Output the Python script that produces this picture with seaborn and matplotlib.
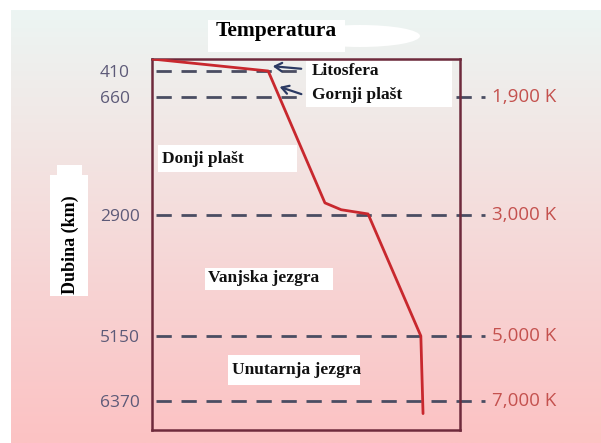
import numpy as np
import matplotlib
matplotlib.use("Agg")
import matplotlib.pyplot as plt
import matplotlib.transforms as mtransforms
from matplotlib.patches import Rectangle, Ellipse, FancyArrowPatch
from matplotlib.colors import LinearSegmentedColormap
import seaborn as sns

# ---------------- data ----------------
layer_depths = [410, 660, 2900, 5150, 6370]          # km
layer_labels = ["410", "660", "2900", "5150", "6370"]
temp_label_depths = [660, 2900, 5150, 6370]
temp_labels = ["1,900 K", "3,000 K", "5,000 K", "7,000 K"]
curve_depth = [0, 410, 2670, 2800, 2880, 5150, 6600]  # km
curve_temp = [0, 2640, 3930, 4300, 4910, 6110, 6160]  # relative temperature position
layer_names = ["Litosfera", "Gornji plašt", "Donji plašt", "Vanjska jezgra", "Unutarnja jezgra"]
title = "Temperatura"
ylabel = "Dubina (km)"

# ---------------- layout ----------------
W, H = 601, 443
sns.set_style("white")
plt.rcParams["font.family"] = ["Open Sans", "DejaVu Sans"]

fig = plt.figure(figsize=(W / 100, H / 100), dpi=100)
fig.patch.set_facecolor("white")

def fx(px):
    return px / W

def fy(py):
    return 1 - py / H

# gradient background
bg = fig.add_axes([fx(11), 0, (W - 11) / W, (H - 10) / H], zorder=-10)
cmap = LinearSegmentedColormap.from_list(
    "bg", [(0.0, "#ecf5f3"), (0.3, "#f2e6e4"), (0.65, "#f7d3d3"), (1.0, "#fcc2c3")])
grad = np.linspace(0, 1, 256).reshape(-1, 1)
bg.imshow(grad, aspect="auto", cmap=cmap, extent=[0, 1, 1, 0])
bg.set_axis_off()

# main axes
ax = fig.add_axes([fx(152), fy(430), (460 - 152) / W, (430 - 59) / H])
ax.set_facecolor("none")

# non-linear depth scale of the schematic
depth_knots = [-20000, 0, 410, 660, 2900, 5150, 6370, 6900, 30000]
pos_knots = [-526, 59, 71, 97, 215, 336, 401, 430, 1694]

def fwd(d):
    return np.interp(d, depth_knots, pos_knots)

def inv(p):
    return np.interp(p, pos_knots, depth_knots)

sns.lineplot(x=curve_temp, y=curve_depth, sort=False, estimator=None,
             color="#c8282e", linewidth=2.0, ax=ax, zorder=4)

ax.set_yscale("function", functions=(fwd, inv))
ax.set_ylim(6900, 0)
ax.set_xlim(0, 7000)

# dashed depth lines
dash_col = "#4a4d62"
ax.hlines([layer_depths[0]], 90, 6900, colors=dash_col, linewidth=2,
          linestyles=[(0, (5.5, 3.5))], zorder=2)
ax.hlines(layer_depths[1:], 90, 7560, colors=dash_col, linewidth=2,
          linestyles=[(0, (5.5, 3.5))], zorder=2, clip_on=False)

# spines
for s in ["left", "right", "top", "bottom"]:
    ax.spines[s].set_visible(True)
    ax.spines[s].set_color("#6e2a3c")
    ax.spines[s].set_linewidth(1.8)

ax.set_xticks([])
ax.set_yticks(layer_depths, labels=layer_labels)
ax.tick_params(axis="y", length=0, pad=37.5, labelsize=12.5, labelcolor="#5d5a78")
for lbl in ax.get_yticklabels():
    lbl.set_horizontalalignment("left")
ax.set_xlabel("")
ax.set_ylabel("")

# right temperature labels
trans = mtransforms.blended_transform_factory(ax.transAxes, ax.transData)
for d, t in zip(temp_label_depths, temp_labels):
    ax.text(1.105, d, t, transform=trans, ha="left", va="center",
            fontsize=13.5, color="#c4514e", clip_on=False)

# white label boxes (figure pixel coords)
def wbox(x0, y0, x1, y1):
    fig.add_artist(Rectangle((fx(x0), fy(y1)), (x1 - x0) / W, (y1 - y0) / H,
                             transform=fig.transFigure, facecolor="white",
                             edgecolor="none", zorder=2))

wbox(208, 20, 345, 52)
fig.add_artist(Ellipse((fx(360), fy(36)), 120 / W, 22 / H, transform=fig.transFigure,
                       facecolor="white", edgecolor="none", zorder=2))
wbox(306, 61, 452, 107)
wbox(158, 145, 297, 172)
wbox(205, 268, 333, 290)
wbox(228, 355, 360, 385)
wbox(57, 165, 82, 176)
wbox(50, 175, 88, 296)

serif = ["Liberation Serif", "DejaVu Serif"]
fig.text(fx(276), fy(31), title, ha="center", va="center", fontsize=15.5,
         fontweight="bold", family=serif, color="black", zorder=3)
label_pos = [(312, 71), (312, 95), (162, 159), (208, 278), (232, 370)]
for (px, py), name in zip(label_pos, layer_names):
    fig.text(fx(px), fy(py), name, ha="left", va="center", fontsize=12.5,
             fontweight="bold", family=serif, color="#111111", zorder=3)
fig.text(fx(70), fy(245), ylabel, ha="center", va="center", rotation=90,
         fontsize=13, fontweight="bold", family=serif, color="black", zorder=3)

# arrows
for (tx, ty), (hx, hy) in [((304, 69), (270, 66)), ((304, 95), (277, 86))]:
    fig.add_artist(FancyArrowPatch(
        (fx(tx), fy(ty)), (fx(hx), fy(hy)), transform=fig.transFigure,
        arrowstyle="->,head_length=5,head_width=3", color="#2b3a63",
        linewidth=1.6, zorder=5))

fig.savefig("out.png", dpi=100)
